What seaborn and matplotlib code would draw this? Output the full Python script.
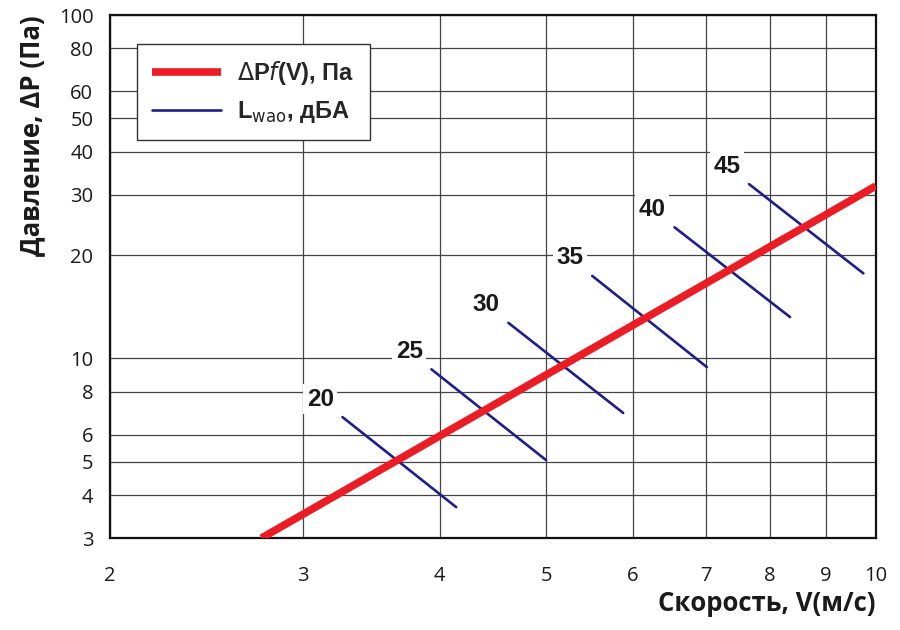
import numpy as np
import pandas as pd
import matplotlib
matplotlib.use('Agg')
import matplotlib.pyplot as plt
from matplotlib.ticker import FixedLocator, NullFormatter, NullLocator
import seaborn as sns

# pressure curve dP = f(V), log-log straight line
v_curve = [2.75, 10.0]
p_curve = [3.0, 31.8]

# noise level lines L_wao (dBA): start / end points
levels = [20, 25, 30, 35, 40, 45]
v_start = [3.26, 3.93, 4.62, 5.51, 6.55, 7.66]
p_start = [6.75, 9.3, 12.7, 17.4, 24.1, 32.2]
v_end = [4.14, 5.0, 5.88, 7.01, 8.35, 9.74]
p_end = [3.69, 5.06, 6.94, 9.44, 13.2, 17.7]

x_ticks = [2, 3, 4, 5, 6, 7, 8, 9, 10]
y_ticks = [3, 4, 5, 6, 8, 10, 20, 30, 40, 50, 60, 80, 100]

RED = '#ec1c24'
BLUE = '#1e1e8c'

sns.set_style('white')
plt.rcParams['font.family'] = ['Open Sans', 'DejaVu Sans']
plt.rcParams['mathtext.fontset'] = 'dejavusans'

fig = plt.figure(figsize=(9, 6.3), dpi=100)
ax = fig.add_axes([0.1222, 0.146, 0.851, 0.830])

curve = pd.DataFrame({'V': v_curve, 'P': p_curve})
sns.lineplot(data=curve, x='V', y='P', ax=ax, color=RED, linewidth=5.5,
             solid_capstyle='butt', label=r'$\Delta$P$\it{f}$(V), Па', zorder=4)

for i, lev in enumerate(levels):
    seg = pd.DataFrame({'V': [v_start[i], v_end[i]], 'P': [p_start[i], p_end[i]]})
    sns.lineplot(data=seg, x='V', y='P', ax=ax, color=BLUE, linewidth=1.9,
                 label=r'L$_{\rm wao}$, дБА' if i == 0 else None, zorder=3)
    ax.annotate(str(lev), (v_start[i], p_start[i]), xytext=(-16, 13),
                textcoords='offset points', ha='center', va='center',
                fontsize=17.5, fontweight='bold', family='Liberation Sans',
                color='#1a1a1a', zorder=5,
                bbox=dict(boxstyle='square,pad=0.15', fc='white', ec='none'))

ax.set_xscale('log')
ax.set_yscale('log')
ax.set_xlim(2, 10)
ax.set_ylim(3, 100)

ax.xaxis.set_major_locator(FixedLocator(x_ticks))
ax.xaxis.set_minor_locator(NullLocator())
ax.set_xticklabels([str(t) for t in x_ticks])
ax.xaxis.set_minor_formatter(NullFormatter())
ax.yaxis.set_major_locator(FixedLocator(y_ticks))
ax.yaxis.set_minor_locator(NullLocator())
ax.set_yticklabels([str(t) for t in y_ticks])
ax.yaxis.set_minor_formatter(NullFormatter())

ax.grid(True, which='major', color='#444444', linewidth=0.9)
ax.tick_params(axis='both', length=0, labelsize=14.5, colors='#1a1a1a')
ax.tick_params(axis='x', pad=20)
ax.tick_params(axis='y', pad=12)
for s in ax.spines.values():
    s.set_color('#111111')
    s.set_linewidth(1.6)

ax.set_xlabel('Скорость, V(м/с)', fontsize=18.5, fontweight='bold', loc='right',
              labelpad=3, color='#1a1a1a')
ax.set_ylabel('Давление, ΔP (Па)', fontsize=18.5, fontweight='bold', loc='top',
              labelpad=10, color='#1a1a1a')

leg = ax.legend(loc='upper left', bbox_to_anchor=(0.035, 0.945), frameon=True,
                fancybox=False, edgecolor='#333333', framealpha=1,
                handlelength=2.9, borderpad=0.65, labelspacing=0.5,
                handletextpad=0.7, borderaxespad=0,
                prop={'weight': 'bold', 'size': 17, 'family': 'Liberation Sans'})
leg.get_frame().set_linewidth(1.0)

fig.savefig('out.png', dpi=100)
